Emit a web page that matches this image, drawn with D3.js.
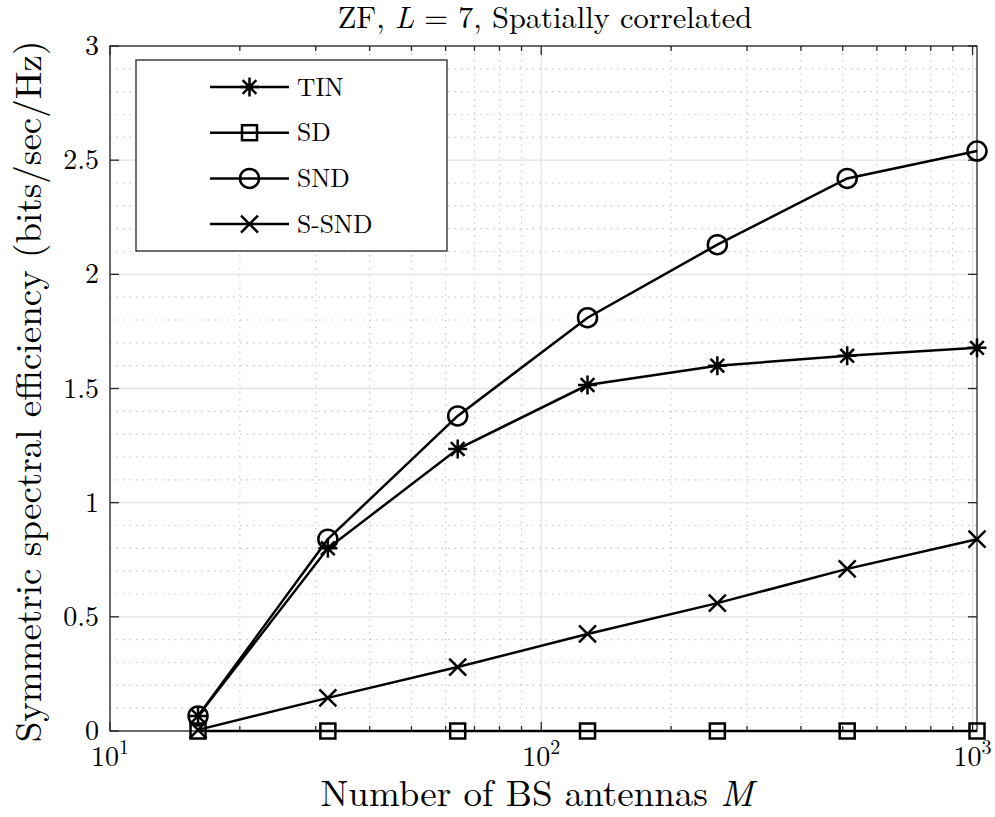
<!DOCTYPE html>
<html>
<head>
<meta charset="utf-8">
<style>
  body { margin: 0; background: #fff; }
</style>
</head>
<body>
<script src="https://cdn.jsdelivr.net/npm/d3@7"></script>
<script>

// number of BS antennas
var antennas = [16, 32, 64, 128, 256, 512, 1024];

// symmetric spectral efficiency per scheme
var tin   = [0.066, 0.80, 1.235, 1.515, 1.60, 1.643, 1.678];
var sd    = [0, 0, 0, 0, 0, 0, 0];
var snd   = [0.066, 0.84, 1.38, 1.81, 2.13, 2.42, 2.54];
var ssnd  = [0.005, 0.145, 0.28, 0.425, 0.56, 0.71, 0.84];

var seriesNames = ["TIN", "SD", "SND", "S-SND"];
var seriesMarkers = ["star", "square", "circle", "cross"];
var yTicks = [0, 0.5, 1, 1.5, 2, 2.5, 3];
var xTicks = [10, 100, 1000];

var W = 995, H = 817;
var margin = {top: 46, right: 18, bottom: 86, left: 110};
var font = "Latin Modern Roman, CMU Serif, Liberation Serif, serif";

var x = d3.scaleLog().domain([10, 1024]).range([margin.left, W - margin.right]);
var y = d3.scaleLinear().domain([0, 3]).range([H - margin.bottom, margin.top]);

var svg = d3.select("body").append("svg")
    .attr("width", W).attr("height", H)
    .attr("font-family", font);

var [x0, x1] = x.range();
var [y0, y1] = y.range();

// minor grid
var xMinor = [];
for (var d = 10; d <= 100; d *= 10)
  for (var k = 2; k <= 9; k++) xMinor.push(d * k);
var yMinor = d3.range(0, 3.001, 0.1).filter(v => Math.abs(v * 2 - Math.round(v * 2)) > 1e-6);

var grid = svg.append("g");
grid.selectAll(".xm").data(xMinor).enter().append("line")
    .attr("x1", d => x(d)).attr("x2", d => x(d))
    .attr("y1", y0).attr("y2", y1)
    .attr("stroke", "#c8c8c8").attr("stroke-width", 1.2)
    .attr("stroke-dasharray", "1.5,5");
grid.selectAll(".ym").data(yMinor).enter().append("line")
    .attr("y1", d => y(d)).attr("y2", d => y(d))
    .attr("x1", x0).attr("x2", x1)
    .attr("stroke", "#c8c8c8").attr("stroke-width", 1.2)
    .attr("stroke-dasharray", "1.5,5");
grid.selectAll(".xM").data(xTicks).enter().append("line")
    .attr("x1", d => x(d)).attr("x2", d => x(d))
    .attr("y1", y0).attr("y2", y1)
    .attr("stroke", "#e3e3e3").attr("stroke-width", 1.3);
grid.selectAll(".yM").data(yTicks).enter().append("line")
    .attr("y1", d => y(d)).attr("y2", d => y(d))
    .attr("x1", x0).attr("x2", x1)
    .attr("stroke", "#e3e3e3").attr("stroke-width", 1.3);

// axes box and ticks
var axisColor = "#262626";
svg.append("rect")
    .attr("x", x0).attr("y", y1)
    .attr("width", x1 - x0).attr("height", y0 - y1)
    .attr("fill", "none").attr("stroke", axisColor).attr("stroke-width", 1.3);

var ticks = svg.append("g").attr("stroke", axisColor).attr("stroke-width", 1.3);
xTicks.forEach(function(t) {
  ticks.append("line").attr("x1", x(t)).attr("x2", x(t)).attr("y1", y0).attr("y2", y0 - 9);
  ticks.append("line").attr("x1", x(t)).attr("x2", x(t)).attr("y1", y1).attr("y2", y1 + 9);
});
xMinor.forEach(function(t) {
  ticks.append("line").attr("x1", x(t)).attr("x2", x(t)).attr("y1", y0).attr("y2", y0 - 5);
  ticks.append("line").attr("x1", x(t)).attr("x2", x(t)).attr("y1", y1).attr("y2", y1 + 5);
});
yTicks.forEach(function(t) {
  ticks.append("line").attr("x1", x0).attr("x2", x0 + 9).attr("y1", y(t)).attr("y2", y(t));
  ticks.append("line").attr("x1", x1).attr("x2", x1 - 9).attr("y1", y(t)).attr("y2", y(t));
});

// tick labels
svg.selectAll(".ytl").data(yTicks).enter().append("text")
    .attr("x", x0 - 11).attr("y", d => y(d) + 9)
    .attr("text-anchor", "end")
    .attr("font-size", 28)
    .text(d => d);

xTicks.forEach(function(t) {
  var lbl = svg.append("text")
      .attr("x", x(t)).attr("y", 766)
      .attr("text-anchor", "middle")
      .attr("font-size", 28);
  lbl.append("tspan").text("10");
  lbl.append("tspan").attr("font-size", 20).attr("dy", -12).text(Math.round(Math.log10(t)));
});

// axis titles
var xl = svg.append("text")
    .attr("x", 537).attr("y", 806)
    .attr("text-anchor", "middle").attr("font-size", 37);
xl.append("tspan").text("Number of BS antennas ");
xl.append("tspan").attr("font-style", "italic").text("M");

svg.append("text")
    .attr("transform", `translate(41,${(y0 + y1) / 2 + 3}) rotate(-90)`)
    .attr("text-anchor", "middle").attr("font-size", 37)
    .text("Symmetric spectral efficiency (bits/sec/Hz)");

var title = svg.append("text")
    .attr("x", 545).attr("y", 28)
    .attr("text-anchor", "middle").attr("font-size", 30.5);
title.append("tspan").text("ZF, ");
title.append("tspan").attr("font-style", "italic").text("L");
title.append("tspan").text(" = 7, Spatially correlated");

// markers
function drawMarker(g, type, cx, cy) {
  var s = 9.5;
  if (type === "star") {
    var p = `M${cx - s},${cy}L${cx + s},${cy}M${cx},${cy - s}L${cx},${cy + s}` +
            `M${cx - s * 0.72},${cy - s * 0.72}L${cx + s * 0.72},${cy + s * 0.72}` +
            `M${cx - s * 0.72},${cy + s * 0.72}L${cx + s * 0.72},${cy - s * 0.72}`;
    g.append("path").attr("d", p);
  } else if (type === "square") {
    g.append("rect").attr("x", cx - 7.5).attr("y", cy - 7.5)
        .attr("width", 15).attr("height", 15);
  } else if (type === "circle") {
    g.append("circle").attr("cx", cx).attr("cy", cy).attr("r", 9.5);
  } else if (type === "cross") {
    var c = 8.5;
    g.append("path").attr("d",
        `M${cx - c},${cy - c}L${cx + c},${cy + c}M${cx - c},${cy + c}L${cx + c},${cy - c}`);
  }
}

var allSeries = [tin, sd, snd, ssnd];
var line = d3.line().x((d, i) => x(antennas[i])).y(d => y(d));

allSeries.forEach(function(vals, si) {
  var g = svg.append("g")
      .attr("stroke", "#000").attr("stroke-width", 2.5).attr("fill", "none");
  g.append("path").datum(vals).attr("d", line);
  vals.forEach(function(v, i) {
    drawMarker(g, seriesMarkers[si], x(antennas[i]), y(v));
  });
});

// legend
var lg = svg.append("g");
lg.append("rect")
    .attr("x", 136).attr("y", 60).attr("width", 311).attr("height", 191)
    .attr("fill", "#fff").attr("stroke", axisColor).attr("stroke-width", 1.3);
seriesNames.forEach(function(name, i) {
  var ly = 87 + i * 45.7;
  var g = lg.append("g").attr("stroke", "#000").attr("stroke-width", 2.5).attr("fill", "none");
  g.append("line").attr("x1", 210).attr("x2", 289).attr("y1", ly).attr("y2", ly);
  drawMarker(g, seriesMarkers[i], 249.5, ly);
  lg.append("text").attr("x", 297).attr("y", ly + 8.5)
      .attr("font-size", 25.5).text(name);
});

</script>
</body>
</html>
